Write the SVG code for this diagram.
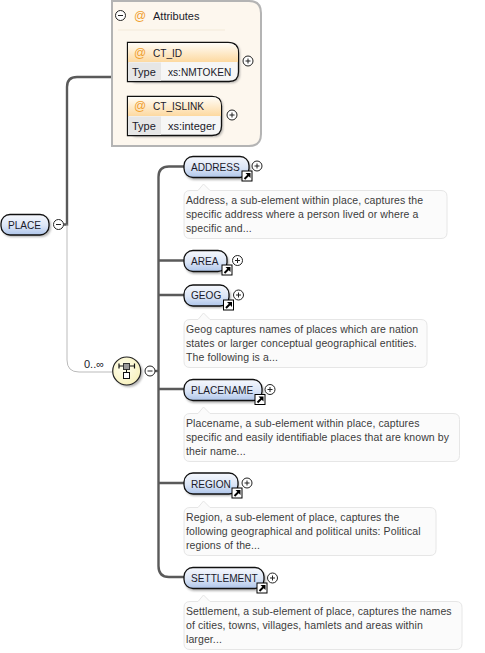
<svg xmlns="http://www.w3.org/2000/svg" width="485" height="653" viewBox="0 0 485 653">
<style>
text{font-family:"Liberation Sans",Arial,sans-serif;font-size:11px;fill:#1a1a2a}
.caps{font-size:10.1px}
.doc text{font-size:10.5px;fill:#3c3c3c;letter-spacing:.1px}
.docbox{fill:#fbfbfb;stroke:#e6e6e6}
.el{fill:url(#blue);stroke:#111;stroke-width:1.3}
.sh{fill:#777;opacity:.55;filter:url(#blur)}
.thick{fill:none;stroke:#5a5a5a;stroke-width:2.4}
.thin{fill:none;stroke:#bbb;stroke-width:1}
.btn circle{fill:#fff;stroke:#222}
.btn path{stroke:#222;fill:none}
.at{fill:#f0a030;font-size:12px}
.attr{fill:#f6f6f6;stroke:#111;stroke-width:1.3}
.cell{fill:#e6e6e6}
</style>
<defs>
<filter id="blur" x="-20%" y="-30%" width="140%" height="160%"><feGaussianBlur stdDeviation="1"/></filter>
<linearGradient id="blue" x1="0" y1="0" x2="0" y2="1"><stop offset="0" stop-color="#f6f8fd"/><stop offset=".55" stop-color="#dbe5f6"/><stop offset="1" stop-color="#aec5ea"/></linearGradient>
<linearGradient id="orange" x1="0" y1="0" x2="0" y2="1"><stop offset="0" stop-color="#fffdf8"/><stop offset="1" stop-color="#fdd9a0"/></linearGradient>
<radialGradient id="yel" cx=".4" cy=".4" r=".7"><stop offset="0" stop-color="#fffff0"/><stop offset="1" stop-color="#f7f0b8"/></radialGradient>
<g id="plus" class="btn"><circle r="5"/><path d="M-2.500 0H2.500M0-2.500V2.500"/></g>
<g id="minus" class="btn"><circle r="5"/><path d="M-2.500 0H2.500"/></g>
<g id="link"><rect x="-5" y="-5" width="10" height="10" fill="#fff" stroke="#000"/><path d="M-2.500 3L2 -1.500" stroke="#000" stroke-width="2"/><path d="M-1.500 -3H3.500V2Z" fill="#000"/></g>
</defs>

<g id="connectors">
<path class="thick" d="M64 224.500H67V87Q67 77 77 77H112"/>
<path class="thin" d="M67 224.500V360Q67 372 79 372H112"/>
<path class="thick" d="M155 371H158.500"/>
<path class="thick" d="M184 166.500H169Q158.500 166.500 158.500 177V566Q158.500 577 169 577H184"/>
<path class="thick" d="M158.500 260.500H184M158.500 295H184M158.500 389H184M158.500 483H184"/>
</g>

<g id="attributes">
<path d="M112 1H249Q261 1 261 13V134Q261 146 249 146H112Z" fill="#fdf7ee" stroke="#b4b4b4" stroke-width="2"/>
<use href="#minus" x="120.500" y="15.500"/>
<text class="at" x="134" y="20">@</text>
<text x="153" y="20">Attributes</text>
<path d="M118 30H225" stroke="#f3ead9"/>
</g>

<g id="ct_id">
<rect x="129" y="44" width="111" height="39" rx="8" class="sh"/>
<path d="M127.500 42.500H228Q238.500 42.500 238.500 53V72Q238.500 81.500 229 81.500H127.500Z" class="attr"/>
<path d="M128 43H228Q238 43 238 53V62H128Z" fill="url(#orange)"/>
<rect x="128" y="62.500" width="33" height="18.500" class="cell"/>
<text class="at" x="134" y="57">@</text>
<text class="caps" x="153" y="57">CT_ID</text>
<text x="132" y="76">Type</text>
<text class="caps" x="168" y="76">xs:NMTOKEN</text>
<use href="#plus" x="248" y="61"/>
</g>

<g id="ct_islink">
<rect x="129" y="98" width="94" height="39" rx="8" class="sh"/>
<path d="M127.500 96.500H212Q221.500 96.500 221.500 106V126Q221.500 135.500 212 135.500H127.500Z" class="attr"/>
<path d="M128 97H212Q221 97 221 106V116H128Z" fill="url(#orange)"/>
<rect x="128" y="116.500" width="33" height="18.500" class="cell"/>
<text class="at" x="134" y="110">@</text>
<text class="caps" x="153" y="110">CT_ISLINK</text>
<text x="132" y="130">Type</text>
<text x="168" y="130">xs:integer</text>
<use href="#plus" x="232" y="115"/>
</g>

<g id="place">
<rect x="2" y="216" width="49" height="21" rx="9" class="sh"/>
<rect x="1" y="214.500" width="48" height="20.500" rx="9" class="el"/>
<text class="caps" x="8" y="229">PLACE</text>
<use href="#minus" x="58.500" y="224.500"/>
</g>

<g id="sequence">
<text x="84" y="368">0..∞</text>
<circle cx="128.700" cy="373" r="14" class="sh"/>
<circle cx="126.700" cy="371" r="14" fill="url(#yel)" stroke="#222" stroke-width="1.2"/>
<path d="M119 366H134.500M119 363.500V368.500M134.500 363.500V368.500" stroke="#111" stroke-width="1.2" fill="none"/>
<rect x="123.500" y="363.500" width="6" height="6" fill="#999" stroke="#333"/>
<path d="M126.500 369.500V372.500" stroke="#111"/>
<rect x="123.500" y="372.500" width="6" height="6" fill="#fff" stroke="#111"/>
<use href="#minus" x="150" y="371"/>
</g>

<g id="address">
<rect x="185" y="159" width="66" height="21" rx="9" class="sh"/>
<rect x="184" y="156.500" width="65" height="21" rx="9" class="el"/>
<text class="caps" x="191" y="171">ADDRESS</text>
<use href="#link" x="247" y="176"/>
<use href="#plus" x="257" y="166"/>
<g class="doc"><path class="docbox" d="M190 190.500H198L203.500 184L210 190.500H441Q447 190.500 447 196.500V232.500Q447 238.500 441 238.500H190Q184 238.500 184 232.500V196.500Q184 190.500 190 190.500Z"/>
<text x="186" y="204">Address, a sub-element within place, captures the</text>
<text x="186" y="218">specific address where a person lived or where a</text>
<text x="186" y="232">specific and...</text></g>
</g>

<g id="area">
<rect x="185" y="253" width="44" height="21" rx="9" class="sh"/>
<rect x="184" y="250.500" width="43" height="21" rx="9" class="el"/>
<text class="caps" x="191" y="265">AREA</text>
<use href="#link" x="227" y="270"/>
<use href="#plus" x="237.500" y="260.500"/>
</g>

<g id="geog">
<rect x="185" y="287" width="46" height="21" rx="9" class="sh"/>
<rect x="184" y="285" width="45" height="21" rx="9" class="el"/>
<text class="caps" x="191" y="299">GEOG</text>
<use href="#link" x="228.500" y="305"/>
<use href="#plus" x="238.500" y="295"/>
<g class="doc"><path class="docbox" d="M190 319.500H198L203.500 313L210 319.500H421Q427 319.500 427 325.500V361.500Q427 367.500 421 367.500H190Q184 367.500 184 361.500V325.500Q184 319.500 190 319.500Z"/>
<text x="186" y="333">Geog captures names of places which are nation</text>
<text x="186" y="347">states or larger conceptual geographical entities.</text>
<text x="186" y="361">The following is a...</text></g>
</g>

<g id="placename">
<rect x="185" y="382" width="79" height="21" rx="9" class="sh"/>
<rect x="184" y="379.500" width="78" height="21" rx="9" class="el"/>
<text class="caps" x="191" y="394">PLACENAME</text>
<use href="#link" x="260" y="399.500"/>
<use href="#plus" x="270" y="389.500"/>
<g class="doc"><path class="docbox" d="M190 413.500H198L203.500 407L210 413.500H453Q459.500 413.500 459.500 419.500V455.500Q459.500 461.500 453 461.500H190Q184 461.500 184 455.500V419.500Q184 413.500 190 413.500Z"/>
<text x="186" y="427">Placename, a sub-element within place, captures</text>
<text x="186" y="441">specific and easily identifiable places that are known by</text>
<text x="186" y="455">their name...</text></g>
</g>

<g id="region">
<rect x="185" y="475" width="54" height="21" rx="9" class="sh"/>
<rect x="184" y="473" width="54" height="21" rx="9" class="el"/>
<text class="caps" x="191" y="488">REGION</text>
<use href="#link" x="237" y="493"/>
<use href="#plus" x="247" y="483"/>
<g class="doc"><path class="docbox" d="M190 507.500H198L203.500 501L210 507.500H430Q436 507.500 436 513.500V549.500Q436 555.500 430 555.500H190Q184 555.500 184 549.500V513.500Q184 507.500 190 507.500Z"/>
<text x="186" y="521">Region, a sub-element of place, captures the</text>
<text x="186" y="535">following geographical and political units: Political</text>
<text x="186" y="549">regions of the...</text></g>
</g>

<g id="settlement">
<rect x="185" y="570" width="81" height="21" rx="9" class="sh"/>
<rect x="184" y="567.500" width="80" height="21" rx="9" class="el"/>
<text class="caps" x="191" y="582">SETTLEMENT</text>
<use href="#link" x="262" y="588"/>
<use href="#plus" x="272.500" y="578"/>
<g class="doc"><path class="docbox" d="M190 601.500H198L203.500 595L210 601.500H456Q462 601.500 462 607.500V643.500Q462 649.500 456 649.500H190Q184 649.500 184 643.500V607.500Q184 601.500 190 601.500Z"/>
<text x="186" y="615">Settlement, a sub-element of place, captures the names</text>
<text x="186" y="629">of cities, towns, villages, hamlets and areas within</text>
<text x="186" y="643">larger...</text></g>
</g>
</svg>
